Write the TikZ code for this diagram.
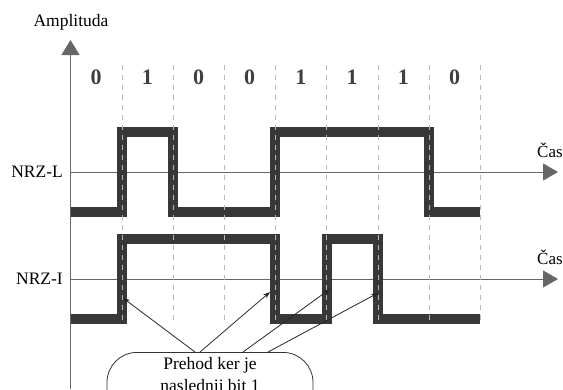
\documentclass[tikz,border=0pt]{standalone}
\usepackage{fontspec}
\setmainfont{Liberation Serif}
\usetikzlibrary{arrows.meta}
\definecolor{wave}{gray}{0.22}
\definecolor{axisline}{gray}{0.40}
\definecolor{bitgrid}{gray}{0.72}

\begin{document}
\begin{tikzpicture}[x=1pt, y=-1pt]
	\def\xo{70.5}
	\def\bw{51.2}
	\def\lA{172}
	\def\lB{279}
	\def\amp{40}

	\clip (0,0) rectangle (563,389);

	% --- Axes ---
	\draw[axisline, line width=1.2pt, -{Triangle[width=18pt, length=15pt]}] (\xo, 389) -- (\xo, 40);
	\draw[axisline, line width=1pt, -{Triangle[width=17pt, length=15pt]}] (\xo, \lA) -- (558, \lA);
	\draw[axisline, line width=1pt, -{Triangle[width=17pt, length=15pt]}] (\xo, \lB) -- (558, \lB);

	\node[font=\fontsize{17.5}{20}\selectfont] (amplabel) at (71, 22) {Amplituda};
	\node[font=\fontsize{17.5}{20}\selectfont, anchor=east, inner sep=0pt] (nrzl) at (63, \lA) {NRZ-L};
	\node[font=\fontsize{17.5}{20}\selectfont, anchor=east, inner sep=0pt] (nrzi) at (63, \lB) {NRZ-I};
	\node[font=\fontsize{17}{20}\selectfont, anchor=west, inner sep=0pt] (casA) at (537, 150) {Čas};
	\node[font=\fontsize{17}{20}\selectfont, anchor=west, inner sep=0pt] (casB) at (537, 257) {Čas};

	% --- NRZ-L signal ---
	\draw[wave, line width=10pt, line join=miter]
		(\xo, \lA+\amp) -- (\xo+1*\bw, \lA+\amp) -- (\xo+1*\bw, \lA-\amp)
		-- (\xo+2*\bw, \lA-\amp) -- (\xo+2*\bw, \lA+\amp)
		-- (\xo+4*\bw, \lA+\amp) -- (\xo+4*\bw, \lA-\amp)
		-- (\xo+7*\bw, \lA-\amp) -- (\xo+7*\bw, \lA+\amp)
		-- (\xo+8*\bw, \lA+\amp);

	% --- NRZ-I signal ---
	\draw[wave, line width=10pt, line join=miter]
		(\xo, \lB+\amp) -- (\xo+1*\bw, \lB+\amp) -- (\xo+1*\bw, \lB-\amp)
		-- (\xo+4*\bw, \lB-\amp) -- (\xo+4*\bw, \lB+\amp)
		-- (\xo+5*\bw, \lB+\amp) -- (\xo+5*\bw, \lB-\amp)
		-- (\xo+6*\bw, \lB-\amp) -- (\xo+6*\bw, \lB+\amp)
		-- (\xo+8*\bw, \lB+\amp);

	% --- Bit borders ---
	\draw[bitgrid, dash pattern=on 5pt off 5pt] (\xo+1*\bw, 65) -- (\xo+1*\bw, 322);
	\draw[bitgrid, dash pattern=on 5pt off 5pt] (\xo+2*\bw, 65) -- (\xo+2*\bw, 322);
	\draw[bitgrid, dash pattern=on 5pt off 5pt] (\xo+3*\bw, 65) -- (\xo+3*\bw, 322);
	\draw[bitgrid, dash pattern=on 5pt off 5pt] (\xo+4*\bw, 65) -- (\xo+4*\bw, 322);
	\draw[bitgrid, dash pattern=on 5pt off 5pt] (\xo+5*\bw, 65) -- (\xo+5*\bw, 322);
	\draw[bitgrid, dash pattern=on 5pt off 5pt] (\xo+6*\bw, 65) -- (\xo+6*\bw, 322);
	\draw[bitgrid, dash pattern=on 5pt off 5pt] (\xo+7*\bw, 65) -- (\xo+7*\bw, 322);
	\draw[bitgrid, dash pattern=on 5pt off 5pt] (\xo+8*\bw, 65) -- (\xo+8*\bw, 322);

	% --- Bit values ---
	\node[font=\fontsize{22}{24}\selectfont\bfseries, text=black!75] (bit0) at (\xo+0.5*\bw, 77) {0};
	\node[font=\fontsize{22}{24}\selectfont\bfseries, text=black!75] (bit1) at (\xo+1.5*\bw, 77) {1};
	\node[font=\fontsize{22}{24}\selectfont\bfseries, text=black!75] (bit2) at (\xo+2.5*\bw, 77) {0};
	\node[font=\fontsize{22}{24}\selectfont\bfseries, text=black!75] (bit3) at (\xo+3.5*\bw, 77) {0};
	\node[font=\fontsize{22}{24}\selectfont\bfseries, text=black!75] (bit4) at (\xo+4.5*\bw, 77) {1};
	\node[font=\fontsize{22}{24}\selectfont\bfseries, text=black!75] (bit5) at (\xo+5.5*\bw, 77) {1};
	\node[font=\fontsize{22}{24}\selectfont\bfseries, text=black!75] (bit6) at (\xo+6.5*\bw, 77) {1};
	\node[font=\fontsize{22}{24}\selectfont\bfseries, text=black!75] (bit7) at (\xo+7.5*\bw, 77) {0};

	% --- Callout ---
	\node[draw=black!80, line width=0.8pt, rounded corners=30pt, anchor=north,
		minimum width=206pt, inner ysep=5pt, text depth=22pt, align=center,
		font=\fontsize{17.5}{22}\selectfont] (callout) at (210, 352) {Prehod ker je\\naslednji bit 1};

	\coordinate (hitA) at (123, 298);
	\coordinate (hitB) at (270, 292);
	\coordinate (hitC) at (330, 289);
	\coordinate (hitD) at (378, 293);

	\draw[black!85, line width=0.8pt, -{Stealth[length=7pt, width=5pt]}] ([xshift=-15pt]callout.north) -- (hitA);
	\draw[black!85, line width=0.8pt, -{Stealth[length=7pt, width=5pt]}] ([xshift=-10pt]callout.north) -- (hitB);
	\draw[black!85, line width=0.8pt, -{Stealth[length=7pt, width=5pt]}] ([xshift=33pt]callout.north) -- (hitC);
	\draw[black!85, line width=0.8pt, -{Stealth[length=7pt, width=5pt]}] ([xshift=58pt]callout.north) -- (hitD);
\end{tikzpicture}
\end{document}
